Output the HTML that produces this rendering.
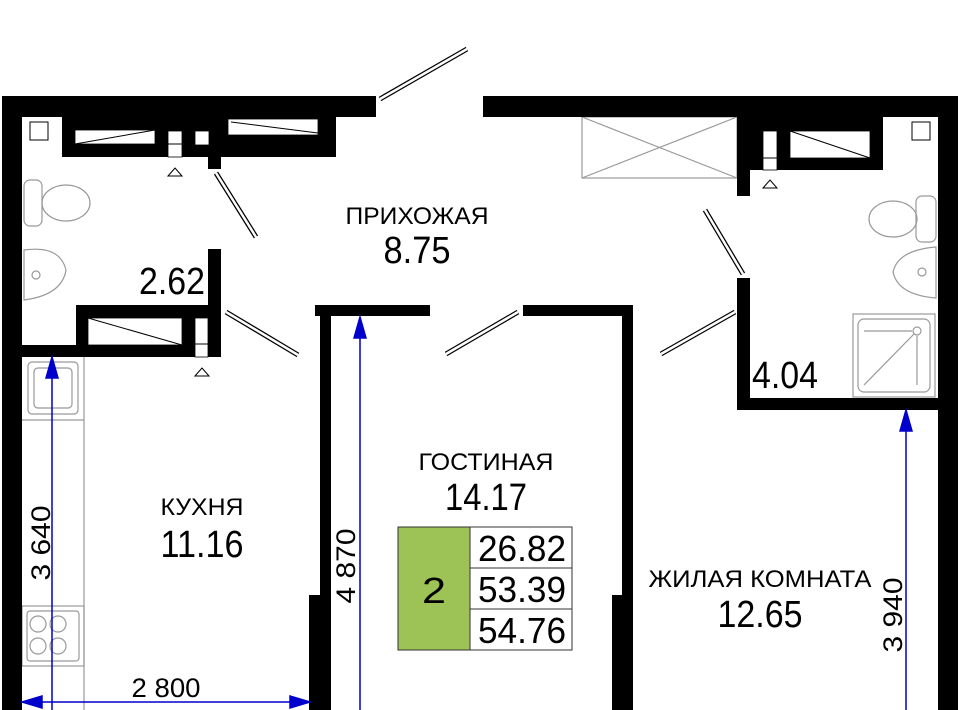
<!DOCTYPE html>
<html><head><meta charset="utf-8"><style>
html,body{margin:0;padding:0;background:#fff;}
svg{display:block;}
text{font-family:"Liberation Sans",sans-serif;fill:#000;}
</style></head><body>
<svg width="960" height="710" viewBox="0 0 960 710" xmlns="http://www.w3.org/2000/svg">
<g fill="none" stroke="#999" stroke-width="1.2">
 <rect x="582" y="117" width="155" height="61"/>
 <line x1="582" y1="117" x2="737" y2="178"/><line x1="582" y1="178" x2="737" y2="117"/>
 <line x1="84" y1="357" x2="84" y2="710"/>
 <line x1="22" y1="420" x2="84" y2="420"/>
 <rect x="28" y="362" width="50" height="52" rx="4"/>
 <rect x="34" y="368" width="38" height="40" rx="4"/>
 <rect x="22" y="606" width="62" height="60"/>
 <rect x="27" y="611" width="52" height="50" rx="3"/>
 <circle cx="38" cy="624" r="8"/><circle cx="58" cy="624" r="8"/>
 <circle cx="38" cy="646" r="8"/><circle cx="58" cy="646" r="8"/>
 <rect x="24" y="180" width="18" height="46" rx="6"/>
 <ellipse cx="66" cy="203" rx="24" ry="18"/>
 <path d="M24 250 Q60 245 66 270 Q62 295 24 300 Z"/>
 <circle cx="36" cy="275" r="4"/>
 <rect x="916" y="196" width="20" height="46" rx="6"/>
 <ellipse cx="893" cy="219" rx="24" ry="18"/>
 <path d="M936 247 Q898 250 893 272 Q898 295 936 298 Z"/>
 <circle cx="922" cy="272" r="4"/>
 <rect x="853" y="314" width="82" height="83"/>
 <rect x="858" y="319" width="72" height="73" rx="6"/>
 <line x1="864" y1="331" x2="912" y2="331"/>
 <circle cx="917" cy="331" r="4"/>
 <line x1="917" y1="336" x2="917" y2="385"/>
 <line x1="864" y1="385" x2="914" y2="334"/>
</g>
<g fill="#000">
 <rect x="2" y="96" width="374" height="21"/>
 <rect x="2" y="96" width="20" height="614"/>
 <rect x="62" y="96" width="274" height="61"/>
 <rect x="208" y="150" width="13" height="19"/>
 <rect x="208" y="249" width="13" height="108"/>
 <rect x="76" y="305" width="145" height="52"/>
 <rect x="2" y="345" width="219" height="12"/>
 <rect x="315" y="305" width="115" height="11"/>
 <rect x="320" y="305" width="11" height="405"/>
 <rect x="309" y="595" width="22" height="115"/>
 <rect x="523" y="305" width="110" height="11"/>
 <rect x="622" y="305" width="11" height="405"/>
 <rect x="612" y="595" width="21" height="115"/>
 <rect x="483" y="96" width="475" height="21"/>
 <rect x="938" y="96" width="20" height="614"/>
 <rect x="737" y="96" width="146" height="74"/>
 <rect x="737" y="96" width="13" height="100"/>
 <rect x="737" y="278" width="13" height="132"/>
 <rect x="737" y="398" width="201" height="12"/>
</g>
<g fill="#fff" stroke="#000" stroke-width="0.8">
 <rect x="75" y="130" width="80" height="14"/>
 <rect x="168" y="131" width="14" height="26"/>
 <rect x="195" y="131" width="14" height="14"/>
 <rect x="228" y="119" width="90" height="16"/>
 <rect x="88" y="318" width="94" height="27"/>
 <rect x="195" y="318" width="13" height="39"/>
 <rect x="763" y="131" width="14" height="39"/>
 <rect x="790" y="131" width="80" height="27"/>
</g>
<g stroke="#000" stroke-width="1" fill="none">
 <line x1="75" y1="144" x2="155" y2="130"/>
 <line x1="231" y1="122" x2="318" y2="133"/>
 <line x1="88" y1="318" x2="182" y2="345"/>
 <line x1="790" y1="131" x2="870" y2="158"/>
 <line x1="168" y1="144" x2="182" y2="144"/>
 <line x1="195" y1="344" x2="208" y2="344"/>
 <line x1="763" y1="158" x2="777" y2="158"/>
 <rect x="30" y="122" width="18" height="18"/>
 <rect x="912" y="122" width="18" height="18"/>
 <path d="M168 176 L175 168 L182 176 Z"/>
 <path d="M195 376 L202 368 L209 376 Z"/>
 <path d="M763 188 L770 180 L777 188 Z"/>
</g>
<g stroke="#000" stroke-width="5">
 <line x1="380" y1="99" x2="467" y2="49"/>
 <line x1="216" y1="173" x2="256" y2="237"/>
 <line x1="226" y1="312" x2="298" y2="355"/>
 <line x1="518" y1="312" x2="446" y2="354"/>
 <line x1="743" y1="274" x2="705" y2="210"/>
 <line x1="735" y1="312" x2="661" y2="354"/>
</g>
<g stroke="#fff" stroke-width="2.5">
 <line x1="380" y1="99" x2="467" y2="49"/>
 <line x1="216" y1="173" x2="256" y2="237"/>
 <line x1="226" y1="312" x2="298" y2="355"/>
 <line x1="518" y1="312" x2="446" y2="354"/>
 <line x1="743" y1="274" x2="705" y2="210"/>
 <line x1="735" y1="312" x2="661" y2="354"/>
</g>
<g stroke="#00c" stroke-width="1.5" fill="#00c">
 <line x1="52" y1="362" x2="52" y2="710"/>
 <path d="M52 357 L46 378 L58 378 Z"/>
 <line x1="360" y1="322" x2="360" y2="710"/>
 <path d="M360 317 L354 338 L366 338 Z"/>
 <line x1="906" y1="414" x2="906" y2="710"/>
 <path d="M906 410 L900 431 L912 431 Z"/>
 <line x1="26" y1="702" x2="306" y2="702"/>
 <path d="M22 702 L42 696 L42 708 Z"/>
 <path d="M310 702 L290 696 L290 708 Z"/>
</g>
<rect x="398" y="527" width="72" height="123" fill="#9dc356" stroke="#333" stroke-width="1"/>
<rect x="470" y="527" width="102" height="41" fill="#fff" stroke="#333"/>
<rect x="470" y="568" width="102" height="41" fill="#fff" stroke="#333"/>
<rect x="470" y="609" width="102" height="41" fill="#fff" stroke="#333"/>
<g font-size="36" text-anchor="middle" lengthAdjust="spacingAndGlyphs">
 <text x="434" y="603" textLength="24" lengthAdjust="spacingAndGlyphs">2</text>
 <text x="522" y="561" textLength="88" lengthAdjust="spacingAndGlyphs">26.82</text>
 <text x="522" y="602" textLength="88" lengthAdjust="spacingAndGlyphs">53.39</text>
 <text x="522" y="643" textLength="88" lengthAdjust="spacingAndGlyphs">54.76</text>
</g>
<g text-anchor="middle">
 <text x="417" y="224" font-size="24" textLength="143" lengthAdjust="spacingAndGlyphs">ПРИХОЖАЯ</text>
 <text x="417" y="263" font-size="38" textLength="67" lengthAdjust="spacingAndGlyphs">8.75</text>
 <text x="172" y="294" font-size="38" textLength="66" lengthAdjust="spacingAndGlyphs">2.62</text>
 <text x="785" y="388" font-size="38" textLength="66" lengthAdjust="spacingAndGlyphs">4.04</text>
 <text x="486" y="470" font-size="24" textLength="135" lengthAdjust="spacingAndGlyphs">ГОСТИНАЯ</text>
 <text x="486" y="510" font-size="38" textLength="82" lengthAdjust="spacingAndGlyphs">14.17</text>
 <text x="202" y="515" font-size="24" textLength="83" lengthAdjust="spacingAndGlyphs">КУХНЯ</text>
 <text x="202" y="557" font-size="38" textLength="83" lengthAdjust="spacingAndGlyphs">11.16</text>
 <text x="760" y="587" font-size="24" textLength="223" lengthAdjust="spacingAndGlyphs">ЖИЛАЯ КОМНАТА</text>
 <text x="760" y="627" font-size="38" textLength="85" lengthAdjust="spacingAndGlyphs">12.65</text>
 <text x="166" y="697" font-size="27" textLength="69" lengthAdjust="spacingAndGlyphs">2 800</text>
 <text transform="translate(50,543) rotate(-90)" font-size="27" textLength="75" lengthAdjust="spacingAndGlyphs">3 640</text>
 <text transform="translate(355,566) rotate(-90)" font-size="27" textLength="75" lengthAdjust="spacingAndGlyphs">4 870</text>
 <text transform="translate(902,615) rotate(-90)" font-size="27" textLength="75" lengthAdjust="spacingAndGlyphs">3 940</text>
</g>
</svg>
</body></html>
